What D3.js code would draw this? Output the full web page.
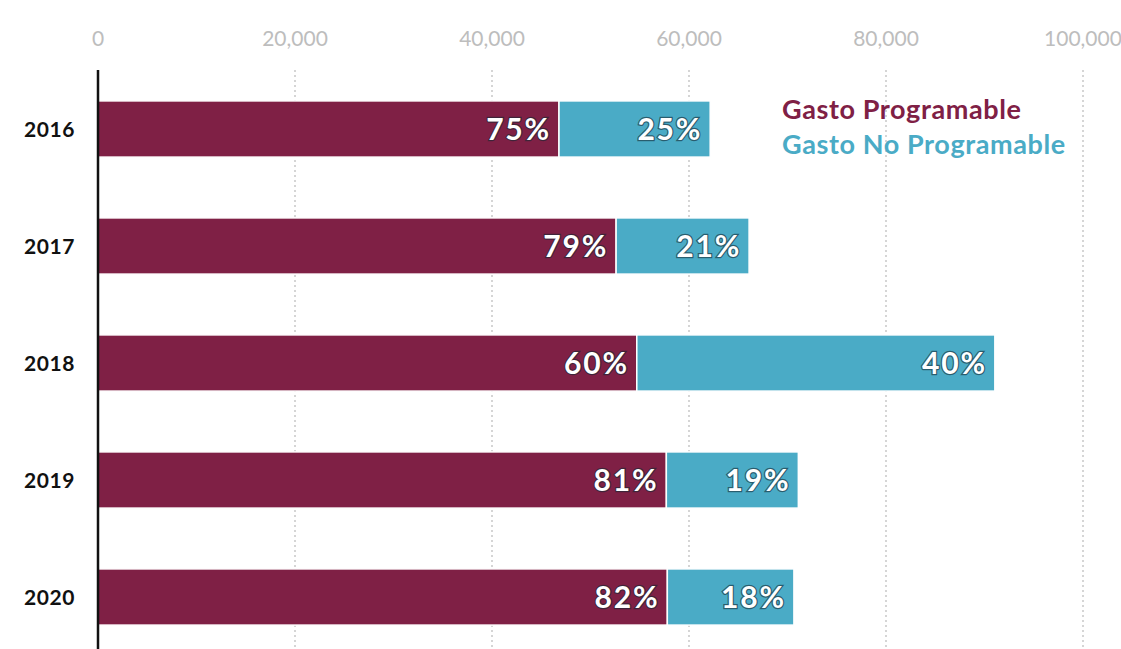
<!DOCTYPE html>
<html>
<head>
<meta charset="utf-8">
<title>Gasto Programable vs No Programable</title>
<style>
  body { margin: 0; background: #fff; }
  svg { display: block; font-family: "Lato", "Open Sans", sans-serif; }
  .tick-label { fill: #bdbdbd; font-size: 21px; }
  .grid { stroke: #c8c8c8; stroke-width: 1.5px; stroke-dasharray: 2 3; }
  .year { font-size: 21px; font-weight: bold; fill: #111; letter-spacing: 0.6px; }
  .pct { fill: #fff; font-size: 30px; font-weight: bold; letter-spacing: 1.8px; paint-order: stroke; stroke: rgba(20,40,50,0.6); stroke-width: 2.5px; }
  .legend { font-size: 27px; font-weight: bold; letter-spacing: 0.6px; }
</style>
</head>
<body>
<script src="https://d3js.org/d3.v7.min.js"></script>
<script>
  // data
  const years = ["2016", "2017", "2018", "2019", "2020"];
  const programable = [46800, 52600, 54700, 57700, 57800];
  const noProgramable = [15350, 13500, 36350, 13400, 12850];
  const pctProg = ["75%", "79%", "60%", "81%", "82%"];
  const pctNoProg = ["25%", "21%", "40%", "19%", "18%"];
  const ticks = [0, 20000, 40000, 60000, 80000, 100000];

  const width = 1121, height = 649;
  const colorProg = "#7f2045", colorNo = "#4aabc6";

  const svg = d3.select("body").append("svg")
    .attr("width", width)
    .attr("height", height);

  const x = d3.scaleLinear().domain([0, 100000]).range([98, 1083]);
  const y = d3.scaleBand().domain(years).range([70.5, 655.5])
    .paddingInner(0.52).paddingOuter(0.26);

  // grid lines
  svg.selectAll(".grid").data(ticks.slice(1)).enter().append("line")
    .attr("class", "grid")
    .attr("x1", d => x(d)).attr("x2", d => x(d))
    .attr("y1", 70).attr("y2", height);

  // tick labels
  svg.selectAll(".tick-label").data(ticks).enter().append("text")
    .attr("class", "tick-label")
    .attr("x", d => x(d)).attr("y", 46)
    .attr("text-anchor", "middle")
    .text(d => d3.format(",")(d));

  const rows = years.map((yr, i) => ({
    year: yr, p: programable[i], n: noProgramable[i], pp: pctProg[i], pn: pctNoProg[i]
  }));

  const g = svg.selectAll(".row").data(rows).enter().append("g").attr("class", "row");

  g.append("rect")
    .attr("x", x(0)).attr("y", d => y(d.year))
    .attr("width", d => x(d.p) - x(0)).attr("height", y.bandwidth())
    .attr("fill", colorProg).attr("stroke", "#fff").attr("stroke-width", 1.5);

  g.append("rect")
    .attr("x", d => x(d.p)).attr("y", d => y(d.year))
    .attr("width", d => x(d.p + d.n) - x(d.p)).attr("height", y.bandwidth())
    .attr("fill", colorNo).attr("stroke", "#fff").attr("stroke-width", 1.5);

  g.append("text").attr("class", "pct")
    .attr("x", d => x(d.p) - 8).attr("y", d => y(d.year) + y.bandwidth() / 2 + 11)
    .attr("text-anchor", "end").text(d => d.pp);

  g.append("text").attr("class", "pct")
    .attr("x", d => x(d.p + d.n) - 8).attr("y", d => y(d.year) + y.bandwidth() / 2 + 11)
    .attr("text-anchor", "end").text(d => d.pn);

  g.append("text").attr("class", "year")
    .attr("x", 75).attr("y", d => y(d.year) + y.bandwidth() / 2 + 8)
    .attr("text-anchor", "end").text(d => d.year);

  // axis line
  svg.append("line")
    .attr("x1", x(0)).attr("x2", x(0))
    .attr("y1", 70).attr("y2", height)
    .attr("stroke", "#111").attr("stroke-width", 2.5);

  // legend
  const legend = [["Gasto Programable", colorProg], ["Gasto No Programable", colorNo]];
  svg.selectAll(".legend").data(legend).enter().append("text")
    .attr("class", "legend")
    .attr("x", 782).attr("y", (d, i) => 119 + i * 35)
    .attr("fill", d => d[1]).text(d => d[0]);
</script>
</body>
</html>
